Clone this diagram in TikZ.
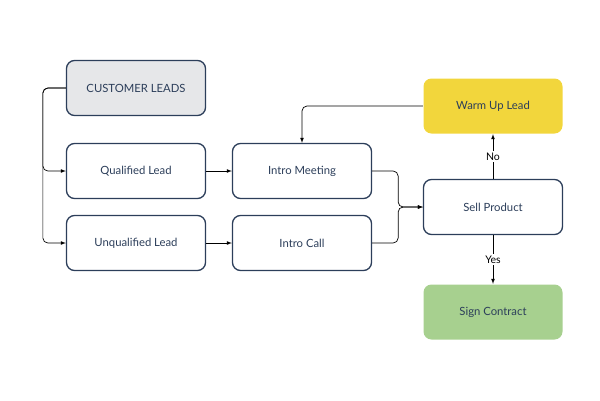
\documentclass[tikz,border=0pt]{standalone}
\usepackage{fontspec}
\setmainfont{Lato}
\usepackage{tikz}
\usepackage{xcolor}
\definecolor{navy}{HTML}{2C3E5A}
\definecolor{leadgray}{HTML}{E6E7E9}
\definecolor{warmyellow}{HTML}{F2D63C}
\definecolor{signgreen}{HTML}{A7D08F}

\begin{document}
\begin{tikzpicture}[x=1pt, y=-1pt,
			box/.style={draw=navy, line width=1.3pt, rounded corners=8pt, fill=white, minimum width=139pt, minimum height=55pt, text=navy, font=\fontsize{11.3}{13}\selectfont},
			flow/.style={black, line width=0.7pt, rounded corners=5pt, -latex},
			answer/.style={fill=white, inner sep=1.5pt, font=\fontsize{10.5}{12}\selectfont}]
			\useasboundingbox (0,0) rectangle (600,400);
			\node[box, fill=leadgray] (leads) at (136,88) {CUSTOMER LEADS};
			\node[box] (qual) at (136,171) {Qualified Lead};
			\node[box] (unqual) at (136,243) {Unqualified Lead};
			\node[box] (meeting) at (302,171) {Intro Meeting};
			\node[box] (call) at (302,243) {Intro Call};
			\node[box] (sell) at (493,207) {Sell Product};
			\node[box, draw=none, fill=warmyellow] (warm) at (493,106) {Warm Up Lead};
			\node[box, draw=none, fill=signgreen] (sign) at (493,312) {Sign Contract};
			\draw[flow] (leads.west) -- ++(-23,0) |- (qual.west);
			\draw[flow] (leads.west) -- ++(-23,0) |- (unqual.west);
			\draw[flow] (qual.east) -- (meeting.west);
			\draw[flow] (unqual.east) -- (call.west);
			\draw[flow] (meeting.east) -- ++(26,0) |- (sell.west);
			\draw[flow] (call.east) -- ++(26,0) |- (sell.west);
			\draw[flow] (warm.west) -| (meeting.north);
			\draw[flow] (sell.north) -- node[answer]{No} (warm.south);
			\draw[flow] (sell.south) -- node[answer]{Yes} (sign.north);
		\end{tikzpicture}
\end{document}
